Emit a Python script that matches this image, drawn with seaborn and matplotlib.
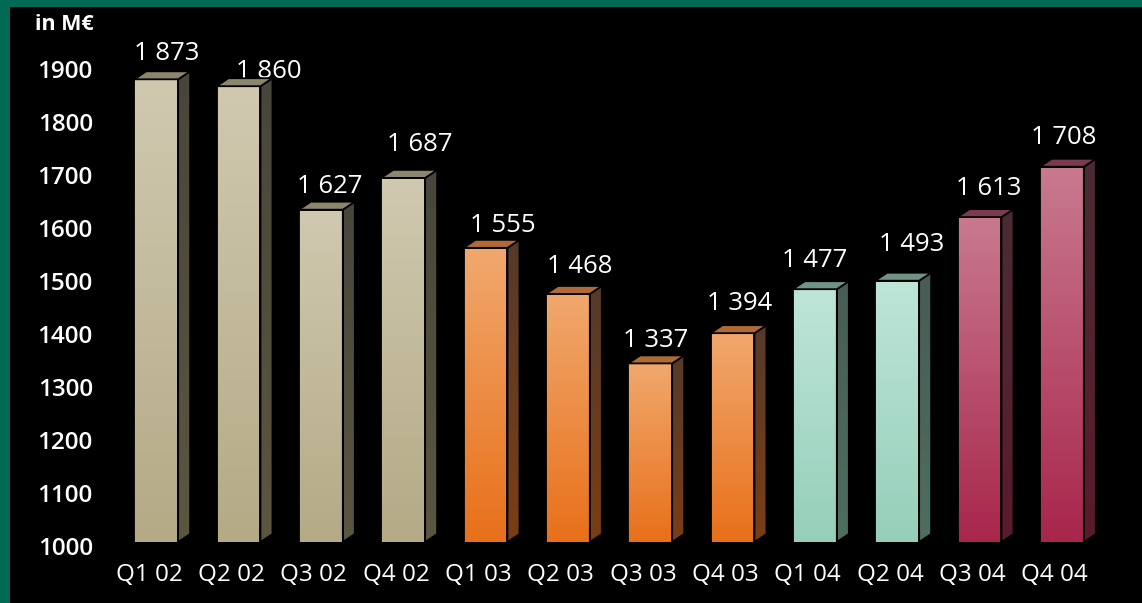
import matplotlib
matplotlib.use("Agg")
import matplotlib.pyplot as plt
import matplotlib.transforms as mtransforms
import numpy as np
import pandas as pd
import seaborn as sns
from matplotlib.colors import LinearSegmentedColormap
from matplotlib.patches import Polygon, Rectangle

# data (M EUR per quarter)
quarters = ["Q1 02", "Q2 02", "Q3 02", "Q4 02", "Q1 03", "Q2 03",
            "Q3 03", "Q4 03", "Q1 04", "Q2 04", "Q3 04", "Q4 04"]
values = [1873, 1860, 1627, 1687, 1555, 1468, 1337, 1394, 1477, 1493, 1613, 1708]
groups = ["02", "02", "02", "02", "03", "03", "03", "03", "04a", "04a", "04b", "04b"]
y_ticks = [1000, 1100, 1200, 1300, 1400, 1500, 1600, 1700, 1800, 1900]

# value label nudges in pixels (x shift, height above bar top)
label_dx = [11, 30, 9, 17, 17, 12, 5, 7, 0, 14, 9, 2]
label_dy = [26, 15, 23, 33, 22, 27, 23, 30, 29, 36, 29, 29]

# front top/bottom, side top/bottom, top face
colours = {
    "02": ("#d0c9b0", "#b4aa86", "#48463b", "#5b5640", "#8c876c"),
    "03": ("#f1a86e", "#e8701a", "#553a2a", "#7a3e14", "#b06a38"),
    "04a": ("#bfe5d8", "#95cfba", "#485c53", "#4d6e60", "#6f9486"),
    "04b": ("#c97a8f", "#a8264b", "#4b2c34", "#5a1a2c", "#7a3a4f"),
}

def thousands(v):
    return "{:,}".format(v).replace(",", " ")

def gradient(ax, extent, top, bottom, clip=None):
    cmap = LinearSegmentedColormap.from_list("g", [bottom, top])
    im = ax.imshow(np.linspace(0, 1, 256).reshape(-1, 1), cmap=cmap, origin="lower",
                   extent=extent, aspect="auto", zorder=2, interpolation="bilinear")
    if clip is not None:
        im.set_clip_path(clip)
    return im

if __name__ == '__main__':
    df = pd.DataFrame({"quarter": quarters, "value": values, "group": groups})

    sns.set_style("dark")
    plt.rcParams['font.family'] = ['Open Sans', 'DejaVu Sans']

    fig = plt.figure(figsize=(11.42, 6.03), dpi=100, facecolor="black")
    ax = fig.add_axes([115 / 1142, 61 / 603, 988 / 1142, 503.5 / 603])
    ax.set_facecolor("black")

    sns.barplot(data=df, x="quarter", y="value", width=0.534, color="k",
                saturation=1, ax=ax, zorder=3)

    xlim = (-0.5, 11.5)
    ylim = (1000, 1950)
    ax.set_xlim(xlim)
    ax.set_ylim(ylim)

    # depth of the 3d effect in data units (12px across, 8px up)
    px_x = 988 / (xlim[1] - xlim[0])
    px_y = 503.5 / (ylim[1] - ylim[0])
    dx = 12 / px_x
    dy = 8 / px_y

    for i, bar in enumerate(ax.patches):
        g = df["group"][i]
        ft, fb, st, sb, tc = colours[g]
        x0 = bar.get_x()
        x1 = x0 + bar.get_width()
        h = bar.get_height()
        bar.set_facecolor("none")
        bar.set_edgecolor("black")
        bar.set_linewidth(1.3)
        bar.set_zorder(4)
        gradient(ax, [x0, x1, ylim[0], h], ft, fb)

        side = Polygon([(x1, ylim[0]), (x1 + dx, ylim[0] + dy), (x1 + dx, h + dy), (x1, h)],
                       closed=True, facecolor="none", edgecolor="black", lw=1.3, zorder=4)
        ax.add_patch(side)
        gradient(ax, [x1, x1 + dx, ylim[0], h + dy], st, sb, clip=side)

        top = Polygon([(x0, h), (x0 + dx, h + dy), (x1 + dx, h + dy), (x1, h)],
                      closed=True, facecolor=tc, edgecolor="black", lw=1.3, zorder=4)
        ax.add_patch(top)

        ax.annotate(thousands(values[i]), xy=((x0 + x1) / 2, h), xytext=(label_dx[i], label_dy[i]),
                    textcoords="offset pixels", ha="center", va="center",
                    color="white", fontsize=18.5)

    ax.set_xlim(xlim)
    ax.set_ylim(ylim)
    ax.set_yticks(y_ticks)
    ax.set_yticklabels([str(t) for t in y_ticks], fontweight="semibold")
    ax.set_xlabel("")
    ax.set_ylabel("")
    ax.tick_params(axis="y", length=0, pad=16, labelsize=17.5, labelcolor="white")
    ax.tick_params(axis="x", length=0, pad=15, labelsize=17.5, labelcolor="white")
    ydown = mtransforms.ScaledTranslation(0, -4 / 100, fig.dpi_scale_trans)
    xleft = mtransforms.ScaledTranslation(-7 / 100, 0, fig.dpi_scale_trans)
    for lbl in ax.get_yticklabels():
        lbl.set_transform(lbl.get_transform() + ydown)
    for lbl in ax.get_xticklabels():
        lbl.set_transform(lbl.get_transform() + xleft)
    ax.grid(False)
    for s in ax.spines.values():
        s.set_visible(False)

    fig.text(35 / 1142, 1 - 25 / 603, "in M€", color="white", fontsize=15.5,
             fontweight="bold", va="center", ha="left")

    # green frame on top and left edge
    fig.patches.append(Rectangle((0, 1 - 7 / 603), 1, 7 / 603, transform=fig.transFigure,
                                 facecolor="#006a55", edgecolor="none", zorder=10))
    fig.patches.append(Rectangle((0, 0), 10 / 1142, 1, transform=fig.transFigure,
                                 facecolor="#006a55", edgecolor="none", zorder=10))

    fig.savefig("out.png", dpi=100, facecolor="black")
